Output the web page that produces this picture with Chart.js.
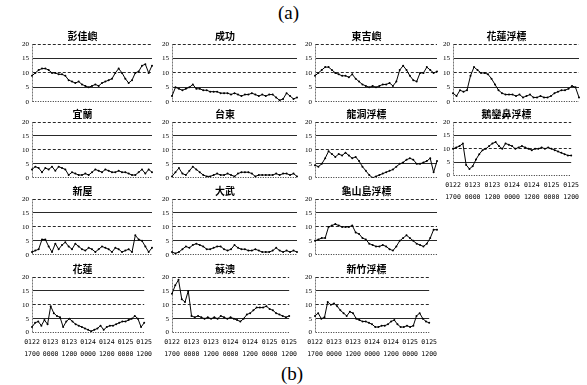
<!DOCTYPE html>
<html>
<head>
<meta charset="utf-8">
<script src="https://cdn.jsdelivr.net/npm/chart.js@4"></script>
<style>
  body { margin: 0; background: #fff; }
  #wrap { position: relative; width: 587px; height: 385px; overflow: hidden; }
  #wrap canvas { position: absolute; }
  .tag { position: absolute; font-family: "Liberation Serif", serif; font-size: 19px; color: #000; }
</style>
</head>
<body>
<div id="wrap">
  <div class="tag" style="left:278px;top:2px">(a)</div>
  <div class="tag" style="left:281px;top:363px">(b)</div>
</div>
<script>
// time axis labels (MMDD / HHMM), one every 6 samples
const tickTop = ['0122', '0123', '0123', '0124', '0124', '0125', '0125']
const tickBottom = ['1700', '0000', '1200', '0000', '1200', '0000', '1200']
const yTicks = [0, 5, 10, 15, 20]

// station names
const titles = ['彭佳嶼', '成功', '東吉嶼', '花蓮浮標',
                '宜蘭', '台東', '龍洞浮標', '鵝鑾鼻浮標',
                '新屋', '大武', '龜山島浮標',
                '花蓮', '蘇澳', '新竹浮標']

// series, 37 samples each
const pengjia = [9,10,11,11.5,11.5,11,10,10,9.5,9.5,9,7.5,7,6.5,7,6,5.5,5,5.5,6,5.5,6.5,7,7.5,8,10,11.5,10,8,6.5,7.5,10,10.5,12.5,13,10,12.5]
const chenggong = [2,5,4.5,4,4.5,5,6,4.5,4.5,4,4,3.5,3.5,3.5,3,3,3,2.5,3,2.5,2,2.5,2.5,3,2.5,2,2.5,2,2.5,2.5,1.5,0.5,1,3,2,1,1.5]
const dongji = [9,10,11,12,12,11,10,9.5,9,9,8.5,9.5,8,7,6,5.5,5,5.5,5,5.5,6,6,6.5,5.5,7,11,12.5,11,9,7.5,7,10,10,12,11,10,10.5]
const hualienBuoy = [3,2,4,3.5,4,9,12,11,10,10,9.5,8,6,4,3,2.5,2.5,2.5,2,2.5,1.5,2,2.5,1.5,1.5,2,1.5,1.5,2,3,3.5,4,4,4.5,5.5,5,1.5]
const yilan = [3,4,3.5,2,3.5,3,4,2.5,4,3.5,3,1,2,1.5,1,1,1.5,1,2,3,2.5,2,3,2.5,2,2,2.5,2,2,1.5,1,1,2,3,1.5,3,2]
const taitung = [0.5,2,3.5,1.5,1,2.5,4,3,2,1,0.5,0.5,1,1.5,1,1,1.5,1,0.5,1.5,2,2,2,1.5,0.5,1,1,1,1,1,1.5,1,1.5,1.5,1,1.5,0.5]
const longdongBuoy = [4.5,4,5,7,9.5,8.5,7.5,8.5,8,9,8,7,7.5,6,4,2.5,1,0,0.5,1,1.5,2,2.5,3,4,5,5.5,6.5,7,6.5,5,5,5.5,6,7,2,6]
const eluanbiBuoy = [10,10.5,11,12,4,2.5,3.5,6,8,9.5,10,11,12,12.5,11,10,12,11.5,11,10,10.5,11,10.5,10,9.5,10,10,10.5,10,10.5,10,9.5,9,8.5,8,7.5,7.5]
const xinwu = [1,1.5,2,5.5,5.5,3,1,4,2,3.5,4.5,3,2,4,3,2,1.5,2.5,2,1,2,3,2.5,2,1,2.5,2,1,1.5,2,1,7,5.5,5,3,1,2.5]
const dawu = [1,0.5,1,2,3,2.5,3.5,4,3.5,3,2,2,2.5,3,3,2,1.5,2,3.5,2.5,2,2,1.5,1.5,2,1.5,1,1,1,1.5,2.5,1.5,1,1.5,1,1.5,1]
const guishanBuoy = [5,5.5,6,6,10,10.5,11,10.5,10,10,10,10.5,8,7.5,6,5.5,4,3.5,3,3,3.5,3,2,1.5,3,5,6,7,6,5,4,3.5,3,4,6,9,9]
const hualien = [2,3.5,4,2.5,4.5,3,9.5,7,6,5.5,2,4,5,4,3,2.5,2,1.5,1,0.5,1,1.5,2.5,1,2,2.5,2.5,3,3.5,4,4,4.5,5,6,5,2,3.5]
const suao = [14,17,19,12,11,15,6,5.5,6,5.5,5,5.5,5,5.5,5,6,5.5,5,5.5,5,4.5,4,5,6.5,7,8,9,9,9,9.5,8.5,8,7,6.5,6,5.5,6]
const hsinchuBuoy = [6,7,5,5.5,11,10,10.5,9.5,8,7,6,7.5,7,5,4.5,4,4,3.5,3,2,2,2.5,2.5,3,4,4.5,3,2,2,2.5,2,2.5,6,7,5,4,3.5]

const series = [pengjia, chenggong, dongji, hualienBuoy,
                yilan, taitung, longdongBuoy, eluanbiBuoy,
                xinwu, dawu, guishanBuoy,
                hualien, suao, hsinchuBuoy]

// grid cell of each panel: [col,row,showTimeAxis]
const cells = [[0,0,0],[1,0,0],[2,0,0],[3,0,0],
               [0,1,0],[1,1,0],[2,1,0],[3,1,1],
               [0,2,0],[1,2,0],[2,2,0],
               [0,3,1],[1,3,1],[2,3,1]]

const plotL = [32, 172, 315, 453]
const plotR = [153, 298, 438, 580]
const plotT = [44, 122, 199, 277]
const plotB = [105, 181, 258, 338]

const labels = pengjia.map((v, i) => String(i))
const wrap = document.getElementById('wrap')

function makePanel(n){
    const [c, r, showX] = cells[n]
    const L = plotL[c], R = plotR[c], T = plotT[r], B = plotB[r]
    const cv = document.createElement('canvas')
    const left = L - 20, top = T - 14
    const w = R - L + 23
    const h = 14 + (B - T) + (showX ? 26 : 4)
    cv.style.left = left + 'px'
    cv.style.top = top + 'px'
    cv.style.width = w + 'px'
    cv.style.height = h + 'px'
    cv.width = w
    cv.height = h
    wrap.appendChild(cv)

    new Chart(cv, {
        type: 'line',
        data: {
            labels: labels,
            datasets: [{
                data: series[n],
                borderColor: '#000',
                backgroundColor: '#000',
                borderWidth: 1,
                pointRadius: 1,
                pointBorderWidth: 0,
                tension: 0
            }]
        },
        options: {
            responsive: false,
            animation: false,
            layout: { padding: { left: 0, right: 3, top: 0, bottom: 0 } },
            plugins: {
                legend: { display: false },
                tooltip: { enabled: false },
                title: {
                    display: true,
                    text: titles[n],
                    color: '#000',
                    font: { family: '"Noto Sans CJK TC"', size: 10, weight: 'bold' },
                    padding: { top: 0, bottom: 2 }
                }
            },
            scales: {
                x: {
                    offset: false,
                    grid: {
                        drawTicks: false,
                        color: (ctx) => (ctx.index === 0 || ctx.index === labels.length - 1) ? '#555' : 'rgba(0,0,0,0)',
                        lineWidth: 0.8
                    },
                    border: { display: false, dash: [1, 2] },
                    ticks: {
                        display: !!showX,
                        autoSkip: false,
                        maxRotation: 0,
                        padding: 4,
                        color: '#000',
                        font: { family: '"DejaVu Sans Mono"', size: 6.5, lineHeight: 1.8 },
                        callback: (v, i) => (i % 6 === 0) ? [tickTop[i / 6], tickBottom[i / 6]] : null
                    }
                },
                y: {
                    min: 0,
                    max: 20,
                    afterFit: (s) => { s.width = 20 },
                    afterBuildTicks: (s) => { s.ticks = yTicks.map(v => ({ value: v })) },
                    grid: {
                        drawTicks: false,
                        color: '#111',
                        lineWidth: 0.9
                    },
                    border: {
                        display: true,
                        color: '#777',
                        width: 0.6,
                        dash: (ctx) => {
                            const v = ctx.tick ? ctx.tick.value : 0
                            if (v === 0) return [1, 1.5]
                            if (v === 10 || v === 20) return [3, 2]
                            return []
                        }
                    },
                    ticks: {
                        padding: 3,
                        color: '#000',
                        font: { family: '"Liberation Serif"', size: 7 }
                    }
                }
            }
        }
    })
}

for (let i = 0; i < series.length; i++) makePanel(i)
</script>
</body>
</html>
